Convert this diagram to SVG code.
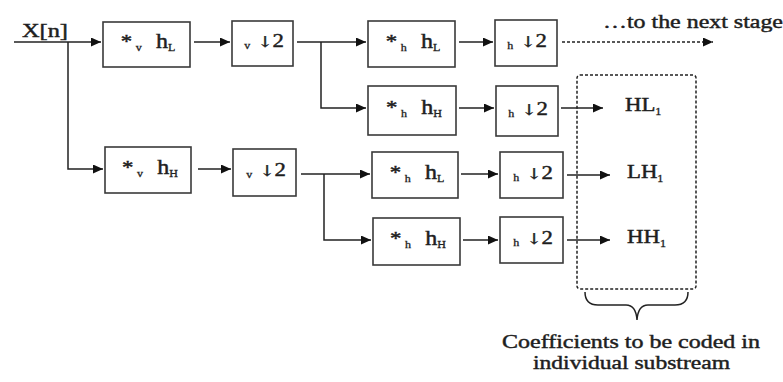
<svg xmlns="http://www.w3.org/2000/svg" width="783" height="382" viewBox="0 0 783 382">
  <defs>
    <marker id="arr" viewBox="0 0 10 10" refX="10" refY="5" markerWidth="10" markerHeight="9" markerUnits="userSpaceOnUse" orient="auto" preserveAspectRatio="none">
      <path d="M0,0 L10,5 L0,10 Z" fill="#111"/>
    </marker>
    <style>
      .box { fill: #fff; stroke: #3a3a3a; stroke-width: 1.6; }
      .ln { fill: none; stroke: #222; stroke-width: 1.5; }
      .dash { fill: none; stroke: #222; stroke-width: 1.5; stroke-dasharray: 3 2; }
      .t { fill: #1e1e1e; stroke: #1e1e1e; stroke-width: 0.45; font-size: 19px; }
      .m { text-anchor: middle; }
      .s { font-size: 10px; stroke-width: 0.3; }
      .h { font-size: 20px; }
      .ar { font-family: "DejaVu Serif", serif; font-size: 15px; }
    </style>
  </defs>

  <rect width="783" height="382" fill="#fff"/>

  <!-- connectors -->
  <g id="connectors">
    <path class="ln" d="M14,42 H101" marker-end="url(#arr)"/>
    <path class="ln" d="M68,42 V169 H103" marker-end="url(#arr)"/>
    <path class="ln" d="M194,42 H230" marker-end="url(#arr)"/>
    <path class="ln" d="M198,169 H231" marker-end="url(#arr)"/>
    <path class="ln" d="M297,42 H366" marker-end="url(#arr)"/>
    <path class="ln" d="M321,42 V108 H366" marker-end="url(#arr)"/>
    <path class="ln" d="M459,42 H493" marker-end="url(#arr)"/>
    <path class="ln" d="M459,108 H494" marker-end="url(#arr)"/>
    <path class="ln" d="M301,174 H370" marker-end="url(#arr)"/>
    <path class="ln" d="M324,174 V240 H371" marker-end="url(#arr)"/>
    <path class="ln" d="M461,174 H498" marker-end="url(#arr)"/>
    <path class="ln" d="M463,240 H498" marker-end="url(#arr)"/>
    <path class="dash" d="M562,42 H713" marker-end="url(#arr)"/>
    <path class="ln" d="M561,108 H603" marker-end="url(#arr)"/>
    <path class="ln" d="M567,175 H610" marker-end="url(#arr)"/>
    <path class="ln" d="M567,240 H610" marker-end="url(#arr)"/>
  </g>

  <g font-family="Liberation Serif, Tinos, serif">
  <!-- input label -->
  <text class="t" x="22" y="37" textLength="46" lengthAdjust="spacingAndGlyphs">X[n]</text>

  <!-- first stage: vertical filters and decimators -->
  <g id="vL">
    <rect class="box" x="103" y="22" width="87" height="45"/>
    <text class="t m" transform="matrix(1.2 0 0 1 148 48)">*<tspan class="s" dx="3" dy="3">v</tspan><tspan class="h" dx="12" dy="-3">h</tspan><tspan class="s" dy="3">L</tspan></text>
  </g>
  <g id="vD1">
    <rect class="box" x="232" y="21" width="61" height="45"/>
    <text class="t m" transform="matrix(1.2 0 0 1 264 47)"><tspan class="s" dy="2">v</tspan><tspan class="ar" dx="6" dy="-2">↓</tspan>2</text>
  </g>
  <g id="vH">
    <rect class="box" x="105" y="147" width="86" height="46"/>
    <text class="t m" transform="matrix(1.2 0 0 1 150 174)">*<tspan class="s" dx="3" dy="3">v</tspan><tspan class="h" dx="12" dy="-3">h</tspan><tspan class="s" dy="3">H</tspan></text>
  </g>
  <g id="vD2">
    <rect class="box" x="233" y="149" width="63" height="47"/>
    <text class="t m" transform="matrix(1.2 0 0 1 266 176)"><tspan class="s" dy="2">v</tspan><tspan class="ar" dx="6" dy="-2">↓</tspan>2</text>
  </g>

  <!-- second stage: horizontal filters and decimators -->
  <g id="hL1">
    <rect class="box" x="368" y="21" width="87" height="46"/>
    <text class="t m" transform="matrix(1.2 0 0 1 413 48)">*<tspan class="s" dx="3" dy="3">h</tspan><tspan class="h" dx="12" dy="-3">h</tspan><tspan class="s" dy="3">L</tspan></text>
  </g>
  <g id="hH1">
    <rect class="box" x="368" y="86" width="88" height="49"/>
    <text class="t m" transform="matrix(1.2 0 0 1 414 114)">*<tspan class="s" dx="3" dy="3">h</tspan><tspan class="h" dx="12" dy="-3">h</tspan><tspan class="s" dy="3">H</tspan></text>
  </g>
  <g id="hD1">
    <rect class="box" x="495" y="20" width="62" height="46"/>
    <text class="t m" transform="matrix(1.2 0 0 1 527 47)"><tspan class="s" dy="2">h</tspan><tspan class="ar" dx="6" dy="-2">↓</tspan>2</text>
  </g>
  <g id="hD2">
    <rect class="box" x="496" y="86" width="62" height="50"/>
    <text class="t m" transform="matrix(1.2 0 0 1 528 115)"><tspan class="s" dy="2">h</tspan><tspan class="ar" dx="6" dy="-2">↓</tspan>2</text>
  </g>
  <g id="hL2">
    <rect class="box" x="372" y="152" width="86" height="46"/>
    <text class="t m" transform="matrix(1.2 0 0 1 417 179)">*<tspan class="s" dx="3" dy="3">h</tspan><tspan class="h" dx="12" dy="-3">h</tspan><tspan class="s" dy="3">L</tspan></text>
  </g>
  <g id="hH2">
    <rect class="box" x="373" y="218" width="87" height="47"/>
    <text class="t m" transform="matrix(1.2 0 0 1 418 245)">*<tspan class="s" dx="3" dy="3">h</tspan><tspan class="h" dx="12" dy="-3">h</tspan><tspan class="s" dy="3">H</tspan></text>
  </g>
  <g id="hD3">
    <rect class="box" x="500" y="152" width="63" height="46"/>
    <text class="t m" transform="matrix(1.2 0 0 1 533 179)"><tspan class="s" dy="2">h</tspan><tspan class="ar" dx="6" dy="-2">↓</tspan>2</text>
  </g>
  <g id="hD4">
    <rect class="box" x="500" y="217" width="63" height="46"/>
    <text class="t m" transform="matrix(1.2 0 0 1 533 244)"><tspan class="s" dy="2">h</tspan><tspan class="ar" dx="6" dy="-2">↓</tspan>2</text>
  </g>

  <!-- outputs -->
  <text class="t" x="603" y="28" textLength="180" lengthAdjust="spacingAndGlyphs">…to the next stage</text>
  <g id="outputs">
    <rect class="dash" x="577" y="75" width="119" height="214" rx="3"/>
    <text class="t" transform="matrix(1.2 0 0 1 625 111)">HL<tspan class="s" dy="4">1</tspan></text>
    <text class="t" transform="matrix(1.2 0 0 1 627 178)">LH<tspan class="s" dy="4">1</tspan></text>
    <text class="t" transform="matrix(1.2 0 0 1 627 243)">HH<tspan class="s" dy="4">1</tspan></text>
    <path class="ln" d="M585,292 Q585,305 598,305 H626 Q636,305 637,320 Q638,305 648,305 H675 Q688,305 688,292"/>
    <text class="t" x="502" y="348" textLength="258" lengthAdjust="spacingAndGlyphs">Coefficients to be coded in</text>
    <text class="t" x="533" y="369" textLength="197" lengthAdjust="spacingAndGlyphs">individual substream</text>
  </g>
  </g>
</svg>
